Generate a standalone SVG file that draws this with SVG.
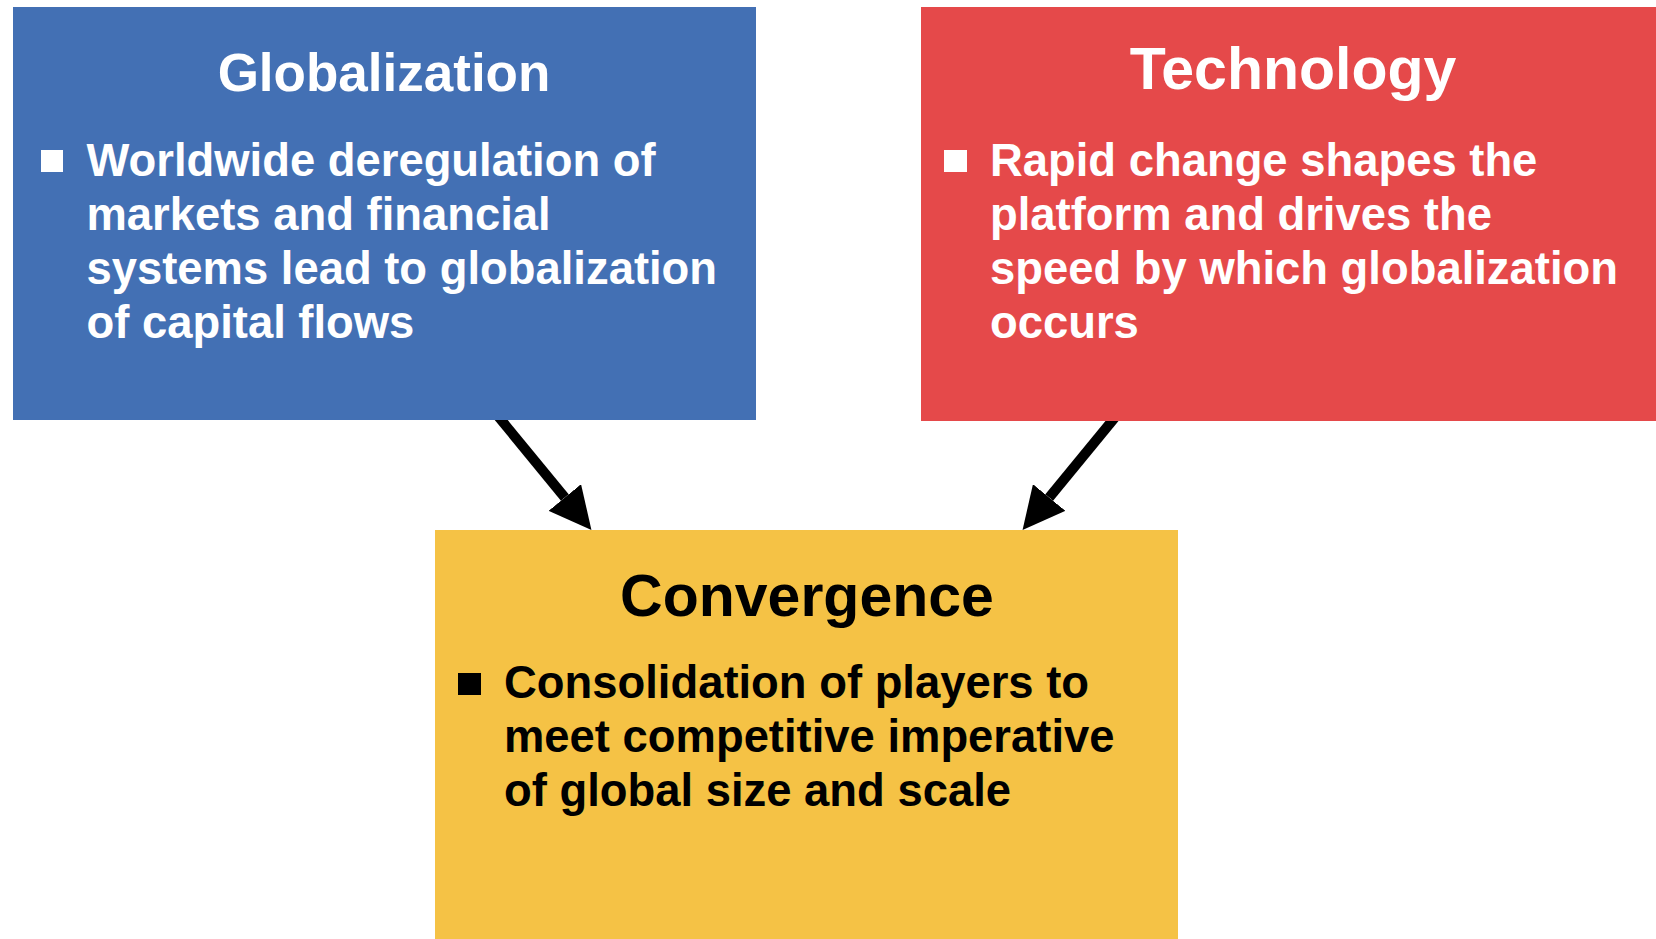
<svg xmlns="http://www.w3.org/2000/svg" width="1656" height="939" viewBox="0 0 1656 939">
  <style>
    .title { font-family: "Liberation Sans", Arial, sans-serif; font-weight: bold; text-anchor: middle; }
    .body { font-family: "Liberation Sans", Arial, sans-serif; font-weight: bold; font-size: 45.4px; }
    .light { fill: #FFFFFF; }
    .dark { fill: #000000; }
    .conn { stroke: #000000; stroke-width: 10; fill: none; marker-end: url(#head); }
  </style>
  <defs>
    <marker id="head" markerUnits="userSpaceOnUse" markerWidth="42" markerHeight="42" viewBox="0 0 42 42" refX="0" refY="21" orient="auto">
      <path d="M0,0 L42,21 L0,42 Z" fill="#000000"/>
    </marker>
  </defs>
  <rect width="1656" height="939" fill="#FFFFFF"/>

  <!-- connectors: both drivers feed into convergence -->
  <g id="connectors">
    <line class="conn" x1="493.8" y1="411" x2="564.8" y2="497.5"/>
    <line class="conn" x1="1120.2" y1="411" x2="1049.2" y2="497.5"/>
  </g>

  <g id="globalization">
    <rect x="13" y="7" width="743" height="413" fill="#4370B4"/>
    <text class="title light" x="384" y="91" font-size="53">Globalization</text>
    <rect class="light" x="41" y="150" width="22" height="22"/>
    <text class="body light">
      <tspan x="86.5" y="175.5">Worldwide deregulation of</tspan>
      <tspan x="86.5" y="229.5">markets and financial</tspan>
      <tspan x="86.5" y="283.5">systems lead to globalization</tspan>
      <tspan x="86.5" y="337.5">of capital flows</tspan>
    </text>
  </g>

  <g id="technology">
    <rect x="921" y="7" width="735" height="414" fill="#E5494A"/>
    <text class="title light" x="1293" y="89" font-size="59">Technology</text>
    <rect class="light" x="944" y="150" width="23" height="22"/>
    <text class="body light">
      <tspan x="990" y="175.5">Rapid change shapes the</tspan>
      <tspan x="990" y="229.5">platform and drives the</tspan>
      <tspan x="990" y="283.5">speed by which globalization</tspan>
      <tspan x="990" y="337.5">occurs</tspan>
    </text>
  </g>

  <g id="convergence">
    <rect x="435" y="530" width="743" height="409" fill="#F5C245"/>
    <text class="title dark" x="807" y="616" font-size="59">Convergence</text>
    <rect class="dark" x="458" y="673" width="23" height="22"/>
    <text class="body dark">
      <tspan x="504" y="698">Consolidation of players to</tspan>
      <tspan x="504" y="752">meet competitive imperative</tspan>
      <tspan x="504" y="806">of global size and scale</tspan>
    </text>
  </g>
</svg>
